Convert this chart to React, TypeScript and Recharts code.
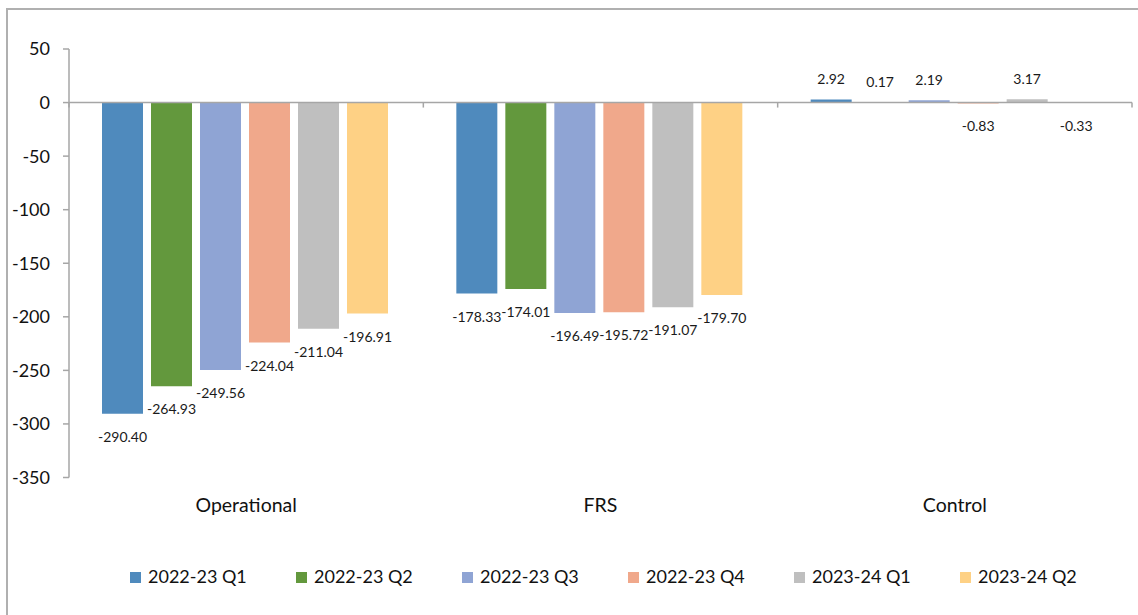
import React from "react";
import { BarChart, Bar, XAxis, YAxis, ReferenceLine, Legend, LabelList } from "recharts";

const categories = ["Operational", "FRS", "Control"];
const seriesNames = ["2022-23 Q1", "2022-23 Q2", "2022-23 Q3", "2022-23 Q4", "2023-24 Q1", "2023-24 Q2"];
const seriesColors = ["#4F8ABD", "#63983D", "#8FA4D4", "#F0A88B", "#BFBFBF", "#FED185"];
const q1_2223 = [-290.4, -178.33, 2.92];
const q2_2223 = [-264.93, -174.01, 0.17];
const q3_2223 = [-249.56, -196.49, 2.19];
const q4_2223 = [-224.04, -195.72, -0.83];
const q1_2324 = [-211.04, -191.07, 3.17];
const q2_2324 = [-196.91, -179.7, -0.33];
const yTicks = [50, 0, -50, -100, -150, -200, -250, -300, -350];

const seriesValues = [q1_2223, q2_2223, q3_2223, q4_2223, q1_2324, q2_2324];
const keys = ["s0", "s1", "s2", "s3", "s4", "s5"];

const data = categories.map((name, i) => {
  const row: any = { name };
  seriesValues.forEach((vals, s) => {
    row[keys[s]] = vals[i];
  });
  return row;
});

const FONT = "Lato, 'Open Sans', sans-serif";

const renderLabel = (props: any) => {
  const { x, y, width, height, value } = props;
  const top = Math.min(y, y + height);
  const bottom = Math.max(y, y + height);
  const cx = x + width / 2;
  const ty = value >= 0 ? top - 15 : bottom + 28;
  return (
    <text x={cx} y={ty} textAnchor="middle" fontSize={14} fontFamily={FONT} fill="#1a1a1a">
      {Number(value).toFixed(2)}
    </text>
  );
};

const zeroLineShape = (props: any) => {
  const { x1, y1, x2, y2 } = props;
  const n = categories.length;
  const ticks = [];
  for (let i = 0; i <= n; i++) {
    const tx = x1 + ((x2 - x1) * i) / n;
    ticks.push(<line key={i} x1={tx} x2={tx} y1={y1} y2={y1 + 5} stroke="#a6a6a6" strokeWidth={1.5} />);
  }
  return (
    <g>
      <line x1={x1} y1={y1} x2={x2} y2={y2} stroke="#a6a6a6" strokeWidth={1.5} />
      {ticks}
    </g>
  );
};

const renderLegend = (props: any) => {
  const payload = props.payload || [];
  return (
    <div style={{ display: "flex", fontFamily: FONT, fontSize: 18, lineHeight: "22px", color: "#111" }}>
      {payload.map((p: any, i: number) => (
        <div key={i} style={{ width: 166, display: "flex", alignItems: "baseline" }}>
          <span
            style={{
              display: "inline-block",
              width: 11,
              height: 11,
              background: p.color,
              marginRight: 7,
            }}
          />
          <span>{p.value}</span>
        </div>
      ))}
    </div>
  );
};

export default function App() {
  return (
    <div
      style={{
        position: "absolute",
        left: 6,
        top: 8,
        borderTop: "2px solid #b0b0b0",
        borderLeft: "2px solid #b0b0b0",
        width: 1140,
        height: 620,
        fontFamily: FONT,
        background: "#fff",
      }}
    >
      <BarChart
        width={1140}
        height={600}
        data={data}
        margin={{ top: 39, right: 16, left: 0, bottom: 102.5 }}
        barCategoryGap={33}
        barGap={8}
      >
        <XAxis
          dataKey="name"
          axisLine={false}
          tickLine={false}
          tickSize={0}
          tickMargin={21}
          height={30}
          tick={{ fontSize: 19.5, fontFamily: FONT, fill: "#111" }}
        />
        <YAxis
          width={61}
          domain={[-350, 50]}
          ticks={yTicks}
          interval={0}
          allowDataOverflow
          axisLine={{ stroke: "#a6a6a6", strokeWidth: 1.5 }}
          tickLine={{ stroke: "#a6a6a6", strokeWidth: 1.5 }}
          tickSize={6}
          tickMargin={13}
          tick={{ fontSize: 18, fontFamily: FONT, fill: "#111" }}
        />
        {keys.map((k, s) => (
          <Bar
            key={k}
            dataKey={k}
            name={seriesNames[s]}
            fill={seriesColors[s]}
            legendType="square"
            isAnimationActive={false}
          >
            <LabelList dataKey={k} content={renderLabel} />
          </Bar>
        ))}
        <ReferenceLine y={0} shape={zeroLineShape} ifOverflow="extendDomain" />
        <Legend
          verticalAlign="middle"
          align="center"
          layout="horizontal"
          wrapperStyle={{ top: 555, left: 122, width: 1000 }}
          content={renderLegend}
        />
      </BarChart>
    </div>
  );
}
